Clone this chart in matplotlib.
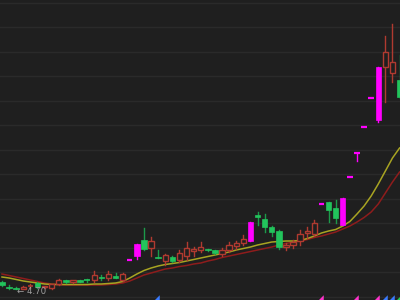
import matplotlib
matplotlib.use("Agg")
import matplotlib.pyplot as plt
from matplotlib.patches import Rectangle
from matplotlib.path import Path

# ---- data ----
opens  = [4.84, 4.74, 4.73, 4.71, 4.76, 4.82, 4.74, 4.72, 4.80, 4.88,
          4.84, 4.88, 4.90, 4.88, 4.94, 4.92, 4.96, 4.88, 5.28, 5.36,
          5.68, 5.52, 5.35, 5.26, 5.34, 5.28, 5.36, 5.47, 5.48, 5.50,
          5.48, 5.40, 5.48, 5.56, 5.62, 5.66, 6.18, 6.10, 5.94, 5.86,
          5.55, 5.58, 5.66, 5.82, 5.80, 6.40, 6.44, 6.32, 5.98, 6.94,
          7.42, 7.94, 8.52, 8.08, 9.14, 9.02, 8.88]
highs  = [4.86, 4.78, 4.74, 4.76, 4.80, 4.84, 4.77, 4.81, 4.90, 4.89,
          4.89, 4.89, 4.90, 5.06, 4.98, 5.06, 5.02, 5.02, 5.28, 5.60,
          5.92, 5.74, 5.48, 5.40, 5.36, 5.48, 5.64, 5.54, 5.64, 5.51,
          5.49, 5.52, 5.64, 5.66, 5.78, 6.04, 6.24, 6.20, 5.96, 5.88,
          5.62, 5.68, 5.88, 5.94, 6.08, 6.40, 6.44, 6.48, 6.52, 6.94,
          7.42, 7.94, 8.52, 9.14, 9.76, 10.00, 9.38]
lows   = [4.76, 4.71, 4.70, 4.70, 4.72, 4.72, 4.73, 4.71, 4.79, 4.83,
          4.83, 4.85, 4.84, 4.84, 4.88, 4.88, 4.92, 4.86, 5.28, 5.30,
          5.48, 5.36, 5.33, 5.18, 5.24, 5.24, 5.28, 5.36, 5.44, 5.46,
          5.41, 5.36, 5.44, 5.50, 5.58, 5.66, 5.98, 5.84, 5.76, 5.50,
          5.48, 5.52, 5.58, 5.72, 5.76, 6.40, 6.04, 6.02, 5.98, 6.94,
          7.26, 7.94, 8.52, 8.04, 8.44, 8.84, 8.52]
closes = [4.78, 4.72, 4.71, 4.75, 4.77, 4.74, 4.76, 4.80, 4.88, 4.84,
          4.88, 4.85, 4.89, 4.98, 4.92, 5.00, 4.93, 5.00, 5.28, 5.60,
          5.50, 5.66, 5.33, 5.38, 5.26, 5.42, 5.52, 5.49, 5.54, 5.48,
          5.42, 5.48, 5.58, 5.62, 5.70, 6.04, 6.14, 5.94, 5.84, 5.54,
          5.57, 5.64, 5.80, 5.86, 6.02, 6.40, 6.28, 6.12, 6.52, 6.94,
          7.42, 7.94, 8.52, 9.14, 9.44, 9.24, 8.54]
# limit-up days (drawn in magenta)
limit_up = [18, 19, 35, 45, 48, 49, 50, 51, 52, 53]

ma_fast = [4.94, 4.92, 4.89, 4.86, 4.84, 4.82, 4.80, 4.79, 4.79, 4.79,
           4.79, 4.79, 4.79, 4.80, 4.80, 4.81, 4.82, 4.85, 4.92, 5.00,
           5.07, 5.12, 5.16, 5.19, 5.21, 5.23, 5.26, 5.29, 5.32, 5.35,
           5.38, 5.41, 5.44, 5.48, 5.51, 5.54, 5.58, 5.61, 5.64, 5.65,
           5.66, 5.66, 5.67, 5.71, 5.76, 5.82, 5.86, 5.89, 5.96, 6.05,
           6.20, 6.36, 6.56, 6.80, 7.06, 7.32, 7.52]
ma_slow = [5.00, 4.97, 4.94, 4.91, 4.88, 4.85, 4.82, 4.80, 4.79, 4.78,
           4.78, 4.78, 4.78, 4.78, 4.78, 4.79, 4.80, 4.82, 4.86, 4.92,
           4.98, 5.02, 5.06, 5.10, 5.12, 5.15, 5.17, 5.20, 5.22, 5.26,
           5.29, 5.33, 5.36, 5.39, 5.42, 5.45, 5.48, 5.51, 5.54, 5.58,
           5.61, 5.64, 5.66, 5.69, 5.73, 5.76, 5.80, 5.84, 5.90, 5.96,
           6.04, 6.13, 6.24, 6.40, 6.62, 6.84, 7.04]

low_label = "\u2190 4.70"
signal_idx = [22, 45, 50, 53, 54, 55, 56]
signal_col = ["#3a7bff", "#ff33cc", "#ff33cc", "#ff33cc", "#3a7bff", "#3a7bff", "#22cc55"]

# ---- styles ----
BG = "#1f1f1f"
GRID = "#2a2a2a"
RED = "#b03a30"
GREEN = "#22c45c"
GREEN_W = "#1c9a4a"
MAG = "#ff00ff"
W = 0.76

fig = plt.figure(figsize=(4, 3), dpi=100, facecolor=BG)
ax = fig.add_axes([0, 0, 1, 1])
ax.set_facecolor(BG)
ax.set_xlim(-0.28, 56.06)
ax.set_ylim(4.48, 10.48)
for s in ax.spines.values():
    s.set_visible(False)
ax.set_xticks([])
ax.set_yticks([])

# horizontal grid
g = 4.55
while g < 10.5:
    ax.axhline(g, color=GRID, lw=1.0, zorder=0)
    g += 0.4896

# moving averages
xs = list(range(len(ma_fast)))
ax.plot(xs, ma_slow, color="#8e1c1c", lw=1.1, zorder=2)
ax.plot(xs, ma_fast, color="#a8a422", lw=1.1, zorder=2)

eps = 0.012
for i, (o, h, l, c) in enumerate(zip(opens, highs, lows, closes)):
    top, bot = max(o, c), min(o, c)
    if i in limit_up:
        col = MAG
        if h - l < eps:
            ax.plot([i - W / 2, i + W / 2], [c, c], color=col, lw=1.6, solid_capstyle="butt", zorder=4)
            continue
        ax.plot([i, i], [l, h], color=col, lw=1.0, zorder=3)
        if top - bot < eps:
            ax.plot([i - W / 2, i + W / 2], [c, c], color=col, lw=1.6, solid_capstyle="butt", zorder=4)
        else:
            ax.add_patch(Rectangle((i - W / 2, bot), W, top - bot, facecolor=col, edgecolor=col, lw=0.5, zorder=4))
        continue
    if c >= o:
        col = RED
        if top - bot < eps:
            ax.plot([i, i], [l, h], color=col, lw=1.0, zorder=3)
            ax.plot([i - W / 2, i + W / 2], [c, c], color=col, lw=1.2, solid_capstyle="butt", zorder=4)
        else:
            ax.plot([i, i], [top, h], color=col, lw=1.0, zorder=3)
            ax.plot([i, i], [l, bot], color=col, lw=1.0, zorder=3)
            ax.add_patch(Rectangle((i - W / 2, bot), W, top - bot, facecolor=BG, edgecolor=col, lw=1.0, zorder=4))
    else:
        ax.plot([i, i], [l, h], color=GREEN_W, lw=1.0, zorder=3)
        if top - bot < eps:
            ax.plot([i - W / 2, i + W / 2], [c, c], color=GREEN, lw=1.2, solid_capstyle="butt", zorder=4)
        else:
            ax.add_patch(Rectangle((i - W / 2, bot), W, top - bot, facecolor=GREEN, edgecolor=GREEN, lw=0.5, zorder=4))

# lowest price label
lo_i = lows.index(min(lows))
ax.text(lo_i + 0.15, min(lows) - 0.04, low_label, color="#a0a0a0", fontsize=6.2,
        ha="left", va="center", zorder=5, family="DejaVu Sans")

# signal wedges at bottom
wedge = Path([(0.5, -0.5), (0.5, 0.5), (-0.5, -0.5), (0.5, -0.5)],
             [Path.MOVETO, Path.LINETO, Path.LINETO, Path.CLOSEPOLY])
for si, sc in zip(signal_idx, signal_col):
    ax.scatter([si - 0.25], [4.53], marker=wedge, s=22, color=sc, zorder=5, linewidths=0)

fig.savefig("out.png", dpi=100, facecolor=BG)
